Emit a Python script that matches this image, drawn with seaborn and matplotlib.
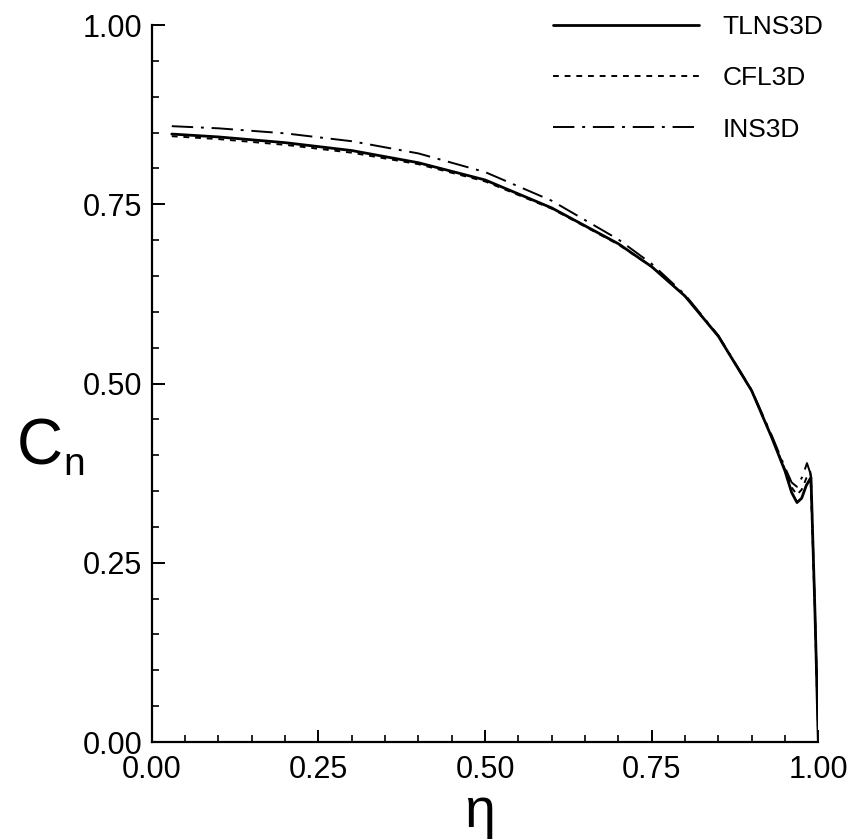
# spanwise normal force coefficient, three codes compared
import pandas as pd
import matplotlib
matplotlib.use('Agg')
import matplotlib.pyplot as plt
from matplotlib.ticker import MultipleLocator, FormatStrFormatter
import seaborn as sns

eta_tlns = [0.03, 0.10, 0.20, 0.30, 0.40, 0.50, 0.60, 0.70, 0.75, 0.80, 0.85,
            0.90, 0.93, 0.95, 0.96, 0.968, 0.975, 0.982, 0.989, 0.995, 1.0]
cn_tlns = [0.848, 0.844, 0.836, 0.825, 0.808, 0.784, 0.745, 0.695, 0.663, 0.622, 0.566,
           0.490, 0.425, 0.378, 0.348, 0.334, 0.340, 0.358, 0.369, 0.18, 0.0]

eta_cfl = [0.03, 0.10, 0.20, 0.30, 0.40, 0.50, 0.60, 0.70, 0.75, 0.80, 0.85,
           0.90, 0.93, 0.95, 0.96, 0.968, 0.975, 0.982, 0.988, 0.995, 1.0]
cn_cfl = [0.845, 0.841, 0.833, 0.822, 0.806, 0.782, 0.744, 0.694, 0.663, 0.622, 0.566,
          0.490, 0.426, 0.380, 0.355, 0.345, 0.352, 0.368, 0.377, 0.18, 0.0]

eta_ins = [0.03, 0.10, 0.20, 0.30, 0.40, 0.50, 0.60, 0.70, 0.75, 0.80, 0.85,
           0.90, 0.93, 0.95, 0.96, 0.968, 0.976, 0.983, 0.989, 0.995, 1.0]
cn_ins = [0.859, 0.856, 0.849, 0.838, 0.821, 0.795, 0.755, 0.701, 0.667, 0.624, 0.567,
          0.491, 0.428, 0.383, 0.362, 0.356, 0.370, 0.389, 0.372, 0.18, 0.0]

solvers = ['TLNS3D', 'CFL3D', 'INS3D']

df = pd.concat([
    pd.DataFrame({'eta': eta_tlns, 'cn': cn_tlns, 'solver': 'TLNS3D'}),
    pd.DataFrame({'eta': eta_cfl, 'cn': cn_cfl, 'solver': 'CFL3D'}),
    pd.DataFrame({'eta': eta_ins, 'cn': cn_ins, 'solver': 'INS3D'}),
])

sns.set_style('ticks')
plt.rcParams['font.family'] = ['Liberation Sans', 'DejaVu Sans']
plt.rcParams['text.color'] = 'black'
plt.rcParams['xtick.color'] = 'black'
plt.rcParams['ytick.color'] = 'black'
plt.rcParams['axes.edgecolor'] = 'black'

fig = plt.figure(figsize=(8.48, 8.39), dpi=100)
ax = fig.add_axes([0.179, 0.1156, 0.786, 0.8545])

sns.lineplot(data=df, x='eta', y='cn', style='solver', style_order=solvers,
             dashes={'TLNS3D': '', 'CFL3D': (3, 3), 'INS3D': (11, 4, 1.5, 4)},
             color='black', sort=False, estimator=None, ax=ax, size='solver',
             sizes={'TLNS3D': 2.0, 'CFL3D': 1.4, 'INS3D': 1.4})

ax.set_xlim(0, 1.0)
ax.set_ylim(0, 1.0)
ax.xaxis.set_major_locator(MultipleLocator(0.25))
ax.yaxis.set_major_locator(MultipleLocator(0.25))
ax.xaxis.set_minor_locator(MultipleLocator(0.05))
ax.yaxis.set_minor_locator(MultipleLocator(0.05))
ax.xaxis.set_major_formatter(FormatStrFormatter('%.2f'))
ax.yaxis.set_major_formatter(FormatStrFormatter('%.2f'))
ax.tick_params(which='major', direction='in', length=9, width=1.4, labelsize=22)
ax.tick_params(which='minor', direction='in', length=5, width=1.2)
ax.tick_params(axis='x', which='major', pad=9)
ax.tick_params(axis='y', which='major', pad=7)
sns.despine(ax=ax)
for s in ['left', 'bottom']:
    ax.spines[s].set_linewidth(1.6)

ax.set_xlabel('')
ax.set_ylabel('')
fig.text(0.565, 0.0, '\u03b7', fontsize=40, ha='center', va='bottom')
fig.text(0.020, 0.446, 'C', fontsize=46, ha='left', va='baseline')
fig.text(0.075, 0.434, 'n', fontsize=28, ha='left', va='baseline')

leg = ax.legend(loc='upper right', bbox_to_anchor=(1.043, 1.047), frameon=False,
                fontsize=19, handlelength=5.5, handletextpad=0.9, labelspacing=1.03)
for line in leg.get_lines():
    line.set_color('black')

fig.savefig('out.png', dpi=100)
